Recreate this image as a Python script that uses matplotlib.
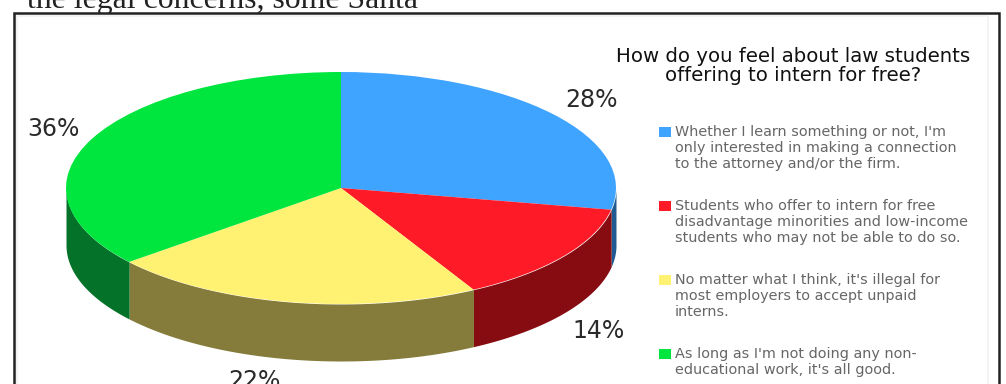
import numpy as np
import matplotlib
matplotlib.use('Agg')
import matplotlib.pyplot as plt
from matplotlib.patches import Rectangle

W, H = 1006, 384

# survey results, clockwise from the top of the pie
shares = [28, 14, 22, 36]
top_colors = ['#3FA4FF', '#FF1A28', '#FFF272', '#00E63F']
side_colors = ['#1F5A92', '#860C12', '#857C3C', '#047228']
answers = [
  "Whether I learn something or not, I'm\nonly interested in making a connection\nto the attorney and/or the firm.",
  "Students who offer to intern for free\ndisadvantage minorities and low-income\nstudents who may not be able to do so.",
  "No matter what I think, it's illegal for\nmost employers to accept unpaid\ninterns.",
  "As long as I'm not doing any non-\neducational work, it's all good.",
]
question = "How do you feel about law students\noffering to intern for free?"
page_text = "the legal concerns, some Santa"

# pie placement in pixels
cx, cy = 341, 188
rx, ry = 275, 116
depth = 57

fig = plt.figure(figsize=(W/100, H/100), dpi=100, facecolor='white')

# full page axes, y going down like the pixels
bg = fig.add_axes([0, 0, 1, 1])
bg.set_xlim(0, W)
bg.set_ylim(H, 0)
bg.axis('off')

bg.text(27, 8, page_text, family='Liberation Serif', fontsize=22.9, color='#222222',
        ha='left', va='baseline', zorder=1)

# framed box, its bottom runs off the page
bg.add_patch(Rectangle((14, 13), 985, H, facecolor='white', edgecolor='#222222', lw=1.8, zorder=2))
bg.add_patch(Rectangle((17, 16), 971, H, facecolor='none', edgecolor='#f1f1f1', lw=1.2, zorder=2))

# pie axes: unit circle squashed to the ellipse, extra room underneath for the rim
d = depth/ry
ax = fig.add_axes([(cx-rx)/W, 1-(cy+ry+depth)/H, 2*rx/W, (2*ry+depth)/H], zorder=3)
ax.pie(shares, colors=top_colors, startangle=90, counterclock=False, radius=1,
       wedgeprops={'linewidth': 0})
ax.set_aspect('auto')
ax.set_xlim(-1, 1)
ax.set_ylim(-1-d, 1)

# rim: only the part of each slice on the front half shows
edges = np.cumsum([0]+shares)*3.6
for i in range(len(shares)):
  a0 = max(edges[i], 90)
  a1 = min(edges[i+1], 270)
  if a1 <= a0:
    continue
  t = np.radians(np.linspace(a0, a1, 100))
  x = np.sin(t)
  y = np.cos(t)
  ax.fill_between(x, y-d, y, color=side_colors[i], lw=0, zorder=0)

# percent labels
label_pos = [(592, 100), (599, 331), (254, 381), (53, 129)]
for v, (lx, ly) in zip(shares, label_pos):
  bg.text(lx, ly, f'{v}%', fontsize=17, color='#2a2a2a', ha='center', va='center', zorder=4)

# question and legend
bg.text(793, 66, question, fontsize=14.2, color='#111111', ha='center', va='center',
        linespacing=1.02, zorder=4)
legend_y = [127, 201, 275, 349]
for c, txt, ly in zip(top_colors, answers, legend_y):
  bg.add_patch(Rectangle((659, ly), 12, 10, facecolor=c, edgecolor='none', zorder=4))
  bg.text(675, ly-2, txt, fontsize=10.4, color='#666666', ha='left', va='top',
          linespacing=1.16, zorder=4)

fig.savefig('out.png', dpi=100)
